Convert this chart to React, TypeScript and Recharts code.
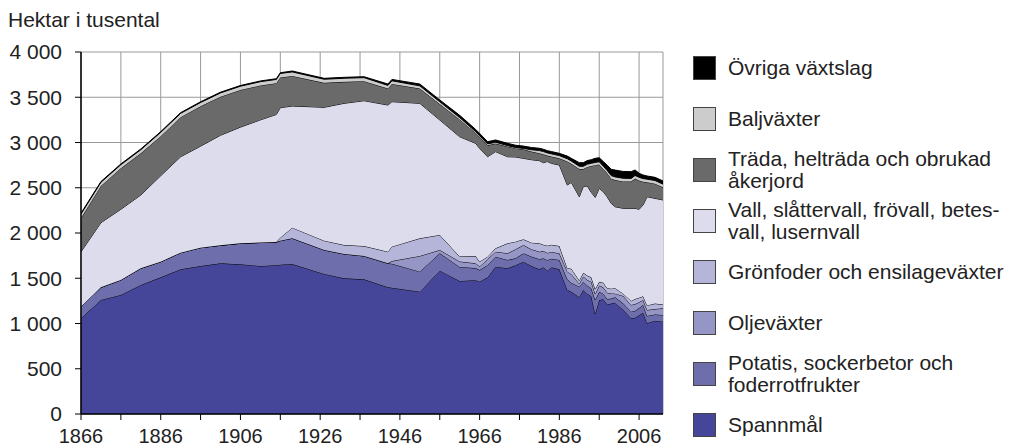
import { AreaChart, Area, XAxis, YAxis, CartesianGrid } from 'recharts';

const YEARS = [
  1866, 1871, 1876, 1881, 1886, 1891, 1896, 1901, 1906, 1911,
  1915, 1916, 1919, 1927, 1932, 1937, 1943, 1944, 1951, 1956,
  1961, 1965, 1966, 1968, 1970, 1973, 1975, 1977, 1979, 1981,
  1982, 1983, 1984, 1986, 1988, 1989, 1991, 1992, 1993, 1994,
  1995, 1996, 1997, 1998, 1999, 2000, 2002, 2004, 2005, 2006,
  2007, 2008, 2010, 2012,
];

// tusental hektar per gröda, samma ordning som YEARS
const SPANNMAL = [
  1057, 1260, 1315, 1425, 1510, 1599, 1635, 1665, 1654, 1635,
  1643, 1650, 1657, 1547, 1499, 1488, 1400, 1395, 1351, 1584,
  1470, 1478, 1462, 1510, 1628, 1610, 1643, 1683, 1635, 1599,
  1621, 1584, 1621, 1599, 1370, 1350, 1290, 1370, 1330, 1300,
  1105, 1260, 1267, 1210, 1220, 1230, 1149, 1057, 1064, 1090,
  1119, 1002, 1031, 1020,
];
const POTATIS = [
  129, 140, 166, 185, 173, 184, 203, 199, 232, 260,
  257, 265, 285, 265, 269, 258, 265, 265, 222, 192,
  155, 134, 128, 136, 110, 92, 77, 93, 105, 111,
  99, 116, 94, 103, 118, 100, 117, 92, 90, 89,
  155, 91, 63, 60, 55, 60, 74, 74, 76, 80,
  86, 81, 69, 74,
];
const OLJEVAXTER = [
  0, 0, 0, 0, 0, 0, 0, 0, 0, 0,
  0, 0, 0, 0, 0, 0, 0, 30, 173, 36,
  60, 53, 40, 64, 55, 74, 100, 91, 80, 83,
  80, 80, 75, 74, 85, 95, 33, 58, 60, 73,
  66, 69, 70, 70, 57, 40, 81, 74, 75, 65,
  55, 66, 60, 74,
];
const GRONFODER = [
  0, 0, 0, 0, 0, 0, 0, 0, 0, 0,
  0, 33, 117, 103, 99, 110, 128, 159, 195, 166,
  55, 80, 53, 28, 38, 110, 84, 63, 73, 93,
  70, 80, 80, 80, 37, 60, 35, 40, 50, 48,
  54, 40, 50, 50, 53, 60, 26, 45, 55, 50,
  40, 51, 60, 42,
];
const VALL = [
  607, 714, 781, 810, 950, 1060, 1122, 1216, 1284, 1355,
  1410, 1437, 1344, 1474, 1566, 1606, 1621, 1602, 1492, 1271,
  1324, 1246, 1252, 1105, 1068, 957, 936, 895, 917, 913,
  907, 930, 900, 895, 920, 955, 926, 952, 990, 940,
  1014, 1034, 1007, 1010, 943, 900, 943, 1023, 1003, 977,
  1010, 1201, 1163, 1155,
];
const TRADA = [
  372, 406, 453, 460, 437, 437, 440, 426, 410, 380,
  345, 333, 332, 270, 237, 215, 182, 196, 163, 176,
  191, 114, 125, 126, 89, 113, 95, 100, 90, 82,
  93, 65, 75, 74, 260, 205, 306, 195, 210, 290,
  356, 263, 253, 260, 271, 295, 297, 295, 328, 318,
  256, 159, 162, 140,
];
const BALJVAXTER = [
  45, 40, 40, 40, 42, 42, 42, 42, 42, 42,
  42, 45, 45, 40, 40, 40, 35, 35, 30, 25,
  20, 15, 15, 15, 15, 10, 10, 10, 20, 30,
  30, 30, 30, 30, 30, 30, 30, 30, 30, 30,
  30, 30, 30, 30, 35, 35, 35, 35, 35, 35,
  35, 35, 35, 35,
];
const OVRIGA = [
  8, 8, 8, 8, 8, 8, 8, 8, 8, 8,
  8, 8, 10, 10, 10, 10, 15, 15, 20, 20,
  25, 25, 25, 25, 25, 25, 25, 25, 25, 25,
  25, 25, 25, 25, 30, 30, 40, 40, 40, 40,
  45, 45, 50, 60, 70, 75, 75, 75, 60, 45,
  40, 35, 35, 35,
];

const X_TICKS = [1866, 1876, 1886, 1896, 1906, 1916, 1926, 1936, 1946, 1956, 1966, 1976, 1986, 1996, 2006];
const Y_TICKS = [0, 500, 1000, 1500, 2000, 2500, 3000, 3500, 4000];

const SERIES = [
  { key: 'spannmal', name: 'Spannmål', values: SPANNMAL, color: '#45459a' },
  { key: 'potatis', name: 'Potatis, sockerbetor och\nfoderrotfrukter', values: POTATIS, color: '#6e6eac' },
  { key: 'olje', name: 'Oljeväxter', values: OLJEVAXTER, color: '#9595c6' },
  { key: 'gronfoder', name: 'Grönfoder och ensilageväxter', values: GRONFODER, color: '#b5b5da' },
  { key: 'vall', name: 'Vall, slåttervall, frövall, betes-\nvall, lusernvall', values: VALL, color: '#dcdcec' },
  { key: 'trada', name: 'Träda, helträda och obrukad\nåkerjord', values: TRADA, color: '#6a6a6a' },
  { key: 'balj', name: 'Baljväxter', values: BALJVAXTER, color: '#cccccc' },
  { key: 'ovriga', name: 'Övriga växtslag', values: OVRIGA, color: '#000000' },
];

const data = YEARS.map((year, i) => {
  const row: Record<string, number> = { year };
  SERIES.forEach(s => { row[s.key] = s.values[i]; });
  return row;
});

const FONT = "'Liberation Sans', Arial, sans-serif";

function fmtThousands(v: number) {
  return v >= 1000 ? `${Math.floor(v / 1000)} ${String(v % 1000).padStart(3, '0')}` : String(v);
}

export default function App() {
  return (
    <div style={{ position: 'relative', width: 1009, height: 447, overflow: 'hidden', fontFamily: FONT, color: '#222' }}>
      <style>{'body { margin: 0; }'}</style>
      <div style={{ position: 'absolute', left: 8, top: 9, fontSize: 21, lineHeight: '21px' }}>Hektar i tusental</div>
      <AreaChart width={668} height={447} data={data} margin={{ top: 52, right: 5, bottom: 0, left: 0 }}>
        <CartesianGrid stroke="#999" />
        {SERIES.map(s => (
          <Area
            key={s.key}
            type="linear"
            dataKey={s.key}
            name={s.name}
            stackId="1"
            stroke="#000"
            strokeWidth={1}
            fill={s.color}
            fillOpacity={1}
            dot={false}
            activeDot={false}
            isAnimationActive={false}
          />
        ))}
        <XAxis
          dataKey="year"
          type="number"
          domain={[1866, 2012]}
          ticks={X_TICKS}
          interval={0}
          height={33}
          tickSize={6}
          tickMargin={9}
          tickFormatter={(v: number) => ((v - 1866) % 20 === 0 ? String(v) : '')}
          tick={{ fill: '#222', fontSize: 20, fontFamily: FONT }}
          axisLine={{ stroke: '#000', strokeWidth: 1.5 }}
          tickLine={{ stroke: '#000' }}
          allowDataOverflow
        />
        <YAxis
          domain={[0, 4000]}
          ticks={Y_TICKS}
          interval={0}
          width={81}
          tickSize={6}
          tickMargin={13}
          tickFormatter={fmtThousands}
          tick={{ fill: '#222', fontSize: 21, fontFamily: FONT }}
          axisLine={{ stroke: '#000', strokeWidth: 1.5 }}
          tickLine={{ stroke: '#000' }}
          allowDataOverflow
        />
        <XAxis
          xAxisId="top"
          orientation="top"
          dataKey="year"
          type="number"
          domain={[1866, 2012]}
          height={0}
          tick={false}
          tickLine={false}
          axisLine={{ stroke: '#000', strokeWidth: 2 }}
        />
        <YAxis
          yAxisId="right"
          orientation="right"
          domain={[0, 4000]}
          width={0}
          tick={false}
          tickLine={false}
          axisLine={{ stroke: '#333', strokeWidth: 2 }}
        />
      </AreaChart>
      <div style={{ position: 'absolute', left: 693, top: 42 }}>
        {[...SERIES].reverse().map(s => (
          <div key={s.key} style={{ height: 51, display: 'flex', alignItems: 'center' }}>
            <span style={{ width: 21, height: 22, background: s.color, border: '1px solid #444', marginRight: 12, flexShrink: 0 }} />
            <span style={{ fontSize: 21, lineHeight: '22px', whiteSpace: 'pre' }}>{s.name}</span>
          </div>
        ))}
      </div>
    </div>
  );
}
